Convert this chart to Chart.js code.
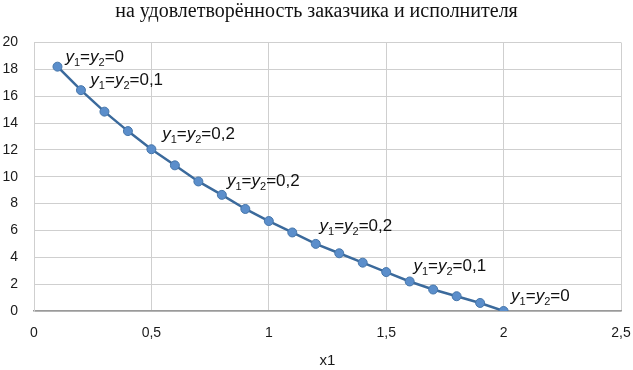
<!DOCTYPE html>
<html>
<head>
<meta charset="utf-8">
<script src="https://cdn.jsdelivr.net/npm/chart.js@4"></script>
<style>
  html, body { margin: 0; padding: 0; background: #fff; }
  #wrap { width: 633px; height: 370px; }
</style>
</head>
<body>
<div id="wrap"><canvas id="chart"></canvas></div>
<script>
// x1 values and the matching curve values
const xValues = [0.1, 0.2, 0.3, 0.4, 0.5, 0.6, 0.7, 0.8, 0.9, 1.0,
                 1.1, 1.2, 1.3, 1.4, 1.5, 1.6, 1.7, 1.8, 1.9, 2.0];
const yValues = [18.2, 16.45, 14.85, 13.4, 12.05, 10.85, 9.65, 8.65, 7.6, 6.7,
                 5.85, 5.0, 4.3, 3.6, 2.9, 2.2, 1.6, 1.1, 0.6, 0];

// text annotations (anchor in data units, left/baseline) and their weights
const noteX = [0.134, 0.240, 0.546, 0.822, 1.216, 1.616, 2.032];
const noteY = [18.55, 16.85, 12.8, 9.3, 5.95, 3.0, 0.75];
const noteValue = ["0", "0,1", "0,2", "0,2", "0,2", "0,1", "0"];

const xTicks = { min: 0, max: 2.5, step: 0.5 };
const yTicks = { min: 0, max: 20, step: 2 };

const titleText = "на удовлетворённость заказчика и исполнителя";
const xTitle = "x1";

const points = xValues.map((x, i) => ({ x: x, y: yValues[i] }));

// draws "y1=y2=v" with italic y and subscript indices
const notesPlugin = {
  id: "notes",
  afterDatasetsDraw(chart) {
    const ctx = chart.ctx;
    const xs = chart.scales.x, ys = chart.scales.y;
    const main = "17px 'Liberation Sans'";
    const ital = "italic 17px 'Liberation Sans'";
    const sub = "11px 'Liberation Sans'";
    ctx.save();
    ctx.fillStyle = "#111";
    ctx.textBaseline = "alphabetic";
    ctx.textAlign = "left";
    noteX.forEach((nx, i) => {
      let px = xs.getPixelForValue(nx);
      const py = ys.getPixelForValue(noteY[i]);
      const parts = [
        [ital, "y", 0], [sub, "1", 4], [main, "=", 0],
        [ital, "y", 0], [sub, "2", 4], [main, "=" + noteValue[i], 0]
      ];
      parts.forEach(([f, t, off]) => {
        ctx.font = f;
        ctx.fillText(t, px, py + off);
        px += ctx.measureText(t).width;
      });
    });
    ctx.restore();
  }
};

new Chart(document.getElementById("chart"), {
  type: "scatter",
  data: {
    datasets: [{
      data: points,
      showLine: true,
      borderColor: "#3b6a9c",
      borderWidth: 2.5,
      pointRadius: 4.5,
      pointBackgroundColor: "#5b8ecb",
      pointBorderColor: "#4676aa",
      pointBorderWidth: 1
    }]
  },
  options: {
    responsive: true,
    maintainAspectRatio: false,
    animation: false,
    layout: { padding: { left: 0, right: 0, top: 0, bottom: 0 } },
    plugins: {
      legend: { display: false },
      tooltip: { enabled: false },
      title: {
        display: true,
        text: titleText,
        color: "#111",
        font: { family: "'Liberation Serif'", size: 20, weight: "normal" },
        padding: { top: 0, bottom: 18.5 }
      }
    },
    scales: {
      x: {
        type: "linear",
        min: xTicks.min,
        max: xTicks.max,
        grid: { color: "#cfcfcf", drawTicks: false },
        border: { color: "#9a9a9a", width: 1.5 },
        ticks: {
          stepSize: xTicks.step,
          padding: 14,
          color: "#1a1a1a",
          font: { family: "'Liberation Sans'", size: 14 },
          callback: v => String(v).replace(".", ",")
        },
        title: {
          display: true,
          text: xTitle,
          color: "#1a1a1a",
          font: { family: "'Liberation Sans'", size: 15 },
          padding: { top: 12, bottom: 0 }
        },
        afterFit(scale) {
          scale.height = 59;
          scale.paddingLeft = 0;
          scale.paddingRight = 12;
        }
      },
      y: {
        min: yTicks.min,
        max: yTicks.max,
        grid: { color: "#cfcfcf", drawTicks: false },
        border: { color: "#cfcfcf" },
        ticks: {
          stepSize: yTicks.step,
          padding: 16,
          color: "#1a1a1a",
          font: { family: "'Liberation Sans'", size: 14 }
        },
        afterFit(scale) { scale.width = 34; }
      }
    }
  },
  plugins: [notesPlugin]
});
</script>
</body>
</html>
